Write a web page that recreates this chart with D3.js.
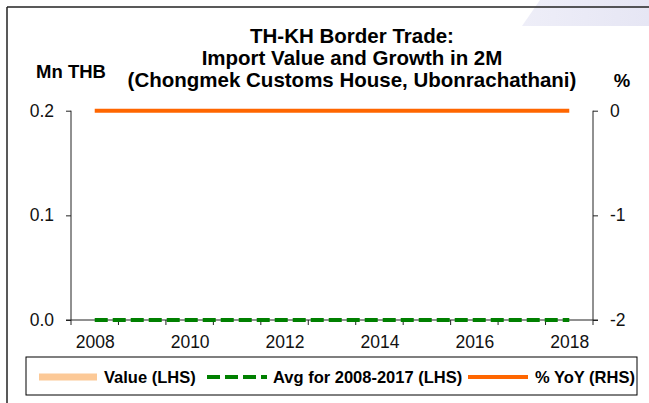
<!DOCTYPE html>
<html>
<head>
<meta charset="utf-8">
<script src="https://cdn.jsdelivr.net/npm/d3@7/dist/d3.min.js"></script>
<style>
  html, body { margin: 0; padding: 0; background: #fff; }
  svg { display: block; font-family: "Liberation Sans", Arial, sans-serif; }
</style>
</head>
<body>
<svg id="chart" width="649" height="403"></svg>
<script>
// Border trade data, Jan-Feb of each year
const years = ["2008","2009","2010","2011","2012","2013","2014","2015","2016","2017","2018"];
const importValue = [0, 0, 0, 0, 0, 0, 0, 0, 0, 0, 0];      // Mn THB (LHS)
const avgValue = [0, 0, 0, 0, 0, 0, 0, 0, 0, 0, 0];         // Avg for 2008-2017, Mn THB (LHS)
const yoyGrowth = [0, 0, 0, 0, 0, 0, 0, 0, 0, 0, 0];        // % YoY (RHS)
const leftTicks = [0, 0.1, 0.2];
const rightTicks = [-2, -1, 0];
const xLabelYears = ["2008","2010","2012","2014","2016","2018"];
const titleLines = ["TH-KH Border Trade:", "Import Value and Growth in 2M", "(Chongmek Customs House, Ubonrachathani)"];

const svg = d3.select("#chart");
const ink = "#222";

// faint decorative shade in the top-right corner
const grad = svg.append("defs").append("linearGradient")
  .attr("id", "shade").attr("x1", "0").attr("y1", "0").attr("x2", "1").attr("y2", "0");
grad.append("stop").attr("offset", "0").attr("stop-color", "#eeeef8");
grad.append("stop").attr("offset", "1").attr("stop-color", "#e6e6f4");
svg.append("path").attr("d", "M540,0 L649,0 L649,26 L522,26 Z").attr("fill", "url(#shade)");

// frame edges
svg.append("line").attr("x1", 7).attr("y1", 7).attr("x2", 649).attr("y2", 7)
  .attr("stroke", ink).attr("stroke-width", 1.5);
svg.append("line").attr("x1", 7).attr("y1", 7).attr("x2", 7).attr("y2", 403)
  .attr("stroke", ink).attr("stroke-width", 1.5);

// plot geometry
const plotLeft = 71, plotRight = 593, plotTop = 110.7, plotBottom = 320;

const x = d3.scaleBand().domain(years).range([plotLeft, plotRight]).paddingInner(0.3).paddingOuter(0.15);
const xc = d3.scalePoint().domain(years).range([plotLeft, plotRight]).padding(0.5);
const yL = d3.scaleLinear().domain([0, 0.2]).range([plotBottom, plotTop]);
const yR = d3.scaleLinear().domain([-2, 0]).range([plotBottom, plotTop]);

// value bars (LHS)
svg.append("g").selectAll("rect").data(years).join("rect")
  .attr("x", d => x(d))
  .attr("width", x.bandwidth())
  .attr("y", (d, i) => yL(importValue[i]))
  .attr("height", (d, i) => yL(0) - yL(importValue[i]))
  .attr("fill", "#fcc997");

// axis lines
svg.append("line").attr("x1", plotLeft - 5).attr("x2", plotRight + 5).attr("y1", plotBottom).attr("y2", plotBottom)
  .attr("stroke", ink).attr("stroke-width", 1);
svg.append("line").attr("x1", plotLeft).attr("x2", plotLeft).attr("y1", plotTop).attr("y2", plotBottom + 5)
  .attr("stroke", ink).attr("stroke-width", 1);
svg.append("line").attr("x1", plotRight).attr("x2", plotRight).attr("y1", plotTop).attr("y2", plotBottom + 5)
  .attr("stroke", ink).attr("stroke-width", 1);

// category boundary ticks on the x axis
const step = (plotRight - plotLeft) / years.length;
svg.append("g").selectAll("line").data(years.slice(1)).join("line")
  .attr("x1", d => xc(d) - step / 2).attr("x2", d => xc(d) - step / 2)
  .attr("y1", plotBottom).attr("y2", plotBottom + 5)
  .attr("stroke", ink).attr("stroke-width", 1);

const tickFont = "17.5px";

// left axis
const gL = svg.append("g").attr("transform", `translate(${plotLeft},0)`)
  .call(d3.axisLeft(yL).tickValues(leftTicks).tickFormat(d3.format(".1f")).tickSize(5).tickPadding(12));
gL.select(".domain").remove();
gL.selectAll("line").attr("stroke", ink);
gL.selectAll("text").attr("font-size", tickFont).attr("fill", "#111").attr("font-family", "Liberation Sans, Arial, sans-serif");

// right axis (plain hyphen for negatives)
const gR = svg.append("g").attr("transform", `translate(${plotRight},0)`)
  .call(d3.axisRight(yR).tickValues(rightTicks).tickFormat(d => String(d)).tickSize(5).tickPadding(12));
gR.select(".domain").remove();
gR.selectAll("line").attr("stroke", ink);
gR.selectAll("text").attr("font-size", tickFont).attr("fill", "#111").attr("font-family", "Liberation Sans, Arial, sans-serif");

// bottom axis labels
const gB = svg.append("g").attr("transform", `translate(0,${plotBottom})`)
  .call(d3.axisBottom(xc).tickValues(xLabelYears).tickSize(0).tickPadding(15.5));
gB.select(".domain").remove();
gB.selectAll("text").attr("font-size", tickFont).attr("fill", "#111").attr("font-family", "Liberation Sans, Arial, sans-serif");

// average line (LHS)
svg.append("path")
  .datum(avgValue)
  .attr("d", d3.line().x((d, i) => xc(years[i])).y(d => yL(d)))
  .attr("fill", "none").attr("stroke", "#008000").attr("stroke-width", 4)
  .attr("stroke-dasharray", "13,5");

// year-on-year growth line (RHS)
svg.append("path")
  .datum(yoyGrowth)
  .attr("d", d3.line().x((d, i) => xc(years[i])).y(d => yR(d)))
  .attr("fill", "none").attr("stroke", "#ff6600").attr("stroke-width", 4);

// title
svg.append("g").selectAll("text").data(titleLines).join("text")
  .attr("x", 352).attr("y", (d, i) => 43.3 + i * 22)
  .attr("text-anchor", "middle").attr("font-weight", "bold").attr("font-size", "20.5px")
  .attr("fill", "#000").text(d => d);

// axis unit labels
svg.append("text").attr("x", 71).attr("y", 77.6).attr("text-anchor", "middle")
  .attr("font-weight", "bold").attr("font-size", "18.5px").text("Mn THB");
svg.append("text").attr("x", 622).attr("y", 86.6).attr("text-anchor", "middle")
  .attr("font-weight", "bold").attr("font-size", "18.5px").text("%");

// legend
svg.append("rect").attr("x", 26).attr("y", 357).attr("width", 611).attr("height", 38)
  .attr("fill", "#fff").attr("stroke", "#000").attr("stroke-width", 1);
const legendY = 377;
const legendItems = [
  { label: "Value (LHS)", x0: 39, x1: 97, tx: 104, color: "#fcc997", width: 7, dash: null },
  { label: "Avg for 2008-2017 (LHS)", x0: 207, x1: 267, tx: 273, color: "#008000", width: 4, dash: "13,5" },
  { label: "% YoY (RHS)", x0: 468, x1: 528, tx: 535, color: "#ff6600", width: 4, dash: null }
];
const lg = svg.append("g").selectAll("g").data(legendItems).join("g");
lg.append("line")
  .attr("x1", d => d.x0).attr("x2", d => d.x1).attr("y1", legendY).attr("y2", legendY)
  .attr("stroke", d => d.color).attr("stroke-width", d => d.width)
  .attr("stroke-dasharray", d => d.dash);
lg.append("text")
  .attr("x", d => d.tx).attr("y", legendY + 6)
  .attr("font-weight", "bold").attr("font-size", "16.5px").attr("fill", "#000")
  .text(d => d.label);
</script>
</body>
</html>
